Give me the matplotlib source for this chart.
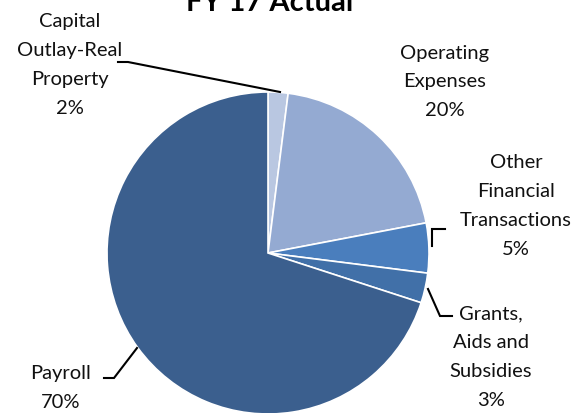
import matplotlib
matplotlib.use("Agg")
import matplotlib.pyplot as plt

categories = ["Capital\nOutlay-Real\nProperty", "Operating\nExpenses", "Other\nFinancial\nTransactions",
              "Grants,\nAids and\nSubsidies", "Payroll"]
values = [2, 20, 5, 3, 70]
pct_labels = ["2%", "20%", "5%", "3%", "70%"]
colors = ["#B9C7E1", "#94AAD2", "#4A7EBD", "#4170A8", "#3B5F8E"]

W, H = 583, 414
fig = plt.figure(figsize=(W / 100, H / 100), dpi=100)
ax = fig.add_axes([0, 0, 1, 1])

def py(y):
    return H - y

cx, cy, r = 268, 254, 161
ax.pie(values, colors=colors, startangle=90, counterclock=False, center=(cx, py(cy)), radius=r,
       wedgeprops=dict(edgecolor="white", linewidth=1.2), frame=True)
ax.set_xlim(0, W)
ax.set_ylim(0, H)
ax.set_aspect("equal")
ax.axis("off")

font = "Lato"
fs = 14.5
label_pos = [(70, 65), (445, 82), (516, 206), (491, 357), (61, 388)]
for cat, pct, (lx, ly) in zip(categories, pct_labels, label_pos):
    ax.text(lx, py(ly), cat + "\n" + pct, ha="center", va="center", fontsize=fs,
            family=font, color="#111111", linespacing=1.85)

leaders = [
    [(118, 63), (128, 63), (280, 93)],
    [(445, 230), (432, 230), (432, 247)],
    [(428, 290), (440, 317), (452, 317)],
    [(104, 379), (114, 379), (137, 349)],
]
for pts in leaders:
    xs = [p[0] for p in pts]
    ys = [py(p[1]) for p in pts]
    ax.plot(xs, ys, color="black", linewidth=1.5, solid_joinstyle="miter")

ax.text(270, py(11), "FY 17 Actual", ha="center", va="baseline", fontsize=21,
        fontweight="bold", family=font, color="black")

fig.savefig("out.png", dpi=100)
